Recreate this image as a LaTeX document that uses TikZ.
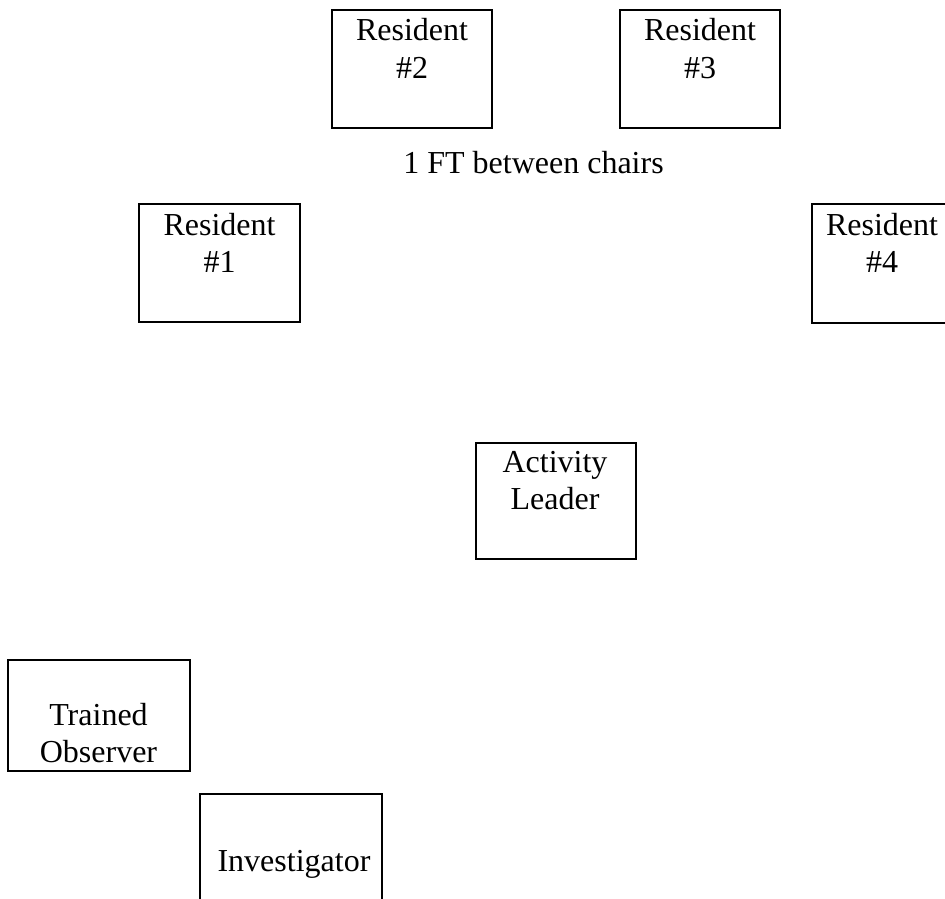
\documentclass[tikz,border=0pt]{standalone}
\usepackage{fontspec}
\setmainfont{Liberation Serif}
\begin{document}
\begin{tikzpicture}[x=1pt,y=-1pt,
  chair/.style={draw=black, line width=1.4pt, rectangle, inner sep=0pt},
  txt/.style={anchor=base, inner sep=0pt, font=\fontsize{32}{37}\selectfont}]
\useasboundingbox (0,0) rectangle (945,899);
\clip (0,0) rectangle (945,899);
% chairs
\node[chair, minimum width=160, minimum height=118] (r2) at (412,69) {};
\node[chair, minimum width=160, minimum height=118] (r3) at (700,69) {};
\node[chair, minimum width=161, minimum height=118] (r1) at (219.5,263) {};
\node[chair, minimum width=160, minimum height=119] (r4) at (892,263.5) {};
\node[chair, minimum width=160, minimum height=116] (al) at (556,501) {};
\node[chair, minimum width=182, minimum height=111] (to) at (99,715.5) {};
\node[chair, minimum width=182, minimum height=118] (inv) at (291,853) {};
% texts
\node[txt] (r2a) at (412,41) {Resident};
\node[txt] (r2b) at (412,78) {\#2};
\node[txt] (r3a) at (700,41) {Resident};
\node[txt] (r3b) at (700,78) {\#3};
\node[txt] (r1a) at (219.5,235) {Resident};
\node[txt] (r1b) at (219.5,272) {\#1};
\node[txt] (r4a) at (882,235) {Resident};
\node[txt] (r4b) at (882,272) {\#4};
\node[txt] (ala) at (555,472) {Activity};
\node[txt] (alb) at (555,509) {Leader};
\node[txt] (toa) at (98.5,725) {Trained};
\node[txt] (tob) at (98.5,762) {Observer};
\node[txt] (inva) at (294,871) {Investigator};
\node[txt] (lbl) at (533.5,173) {1 FT between chairs};
\end{tikzpicture}
\end{document}
